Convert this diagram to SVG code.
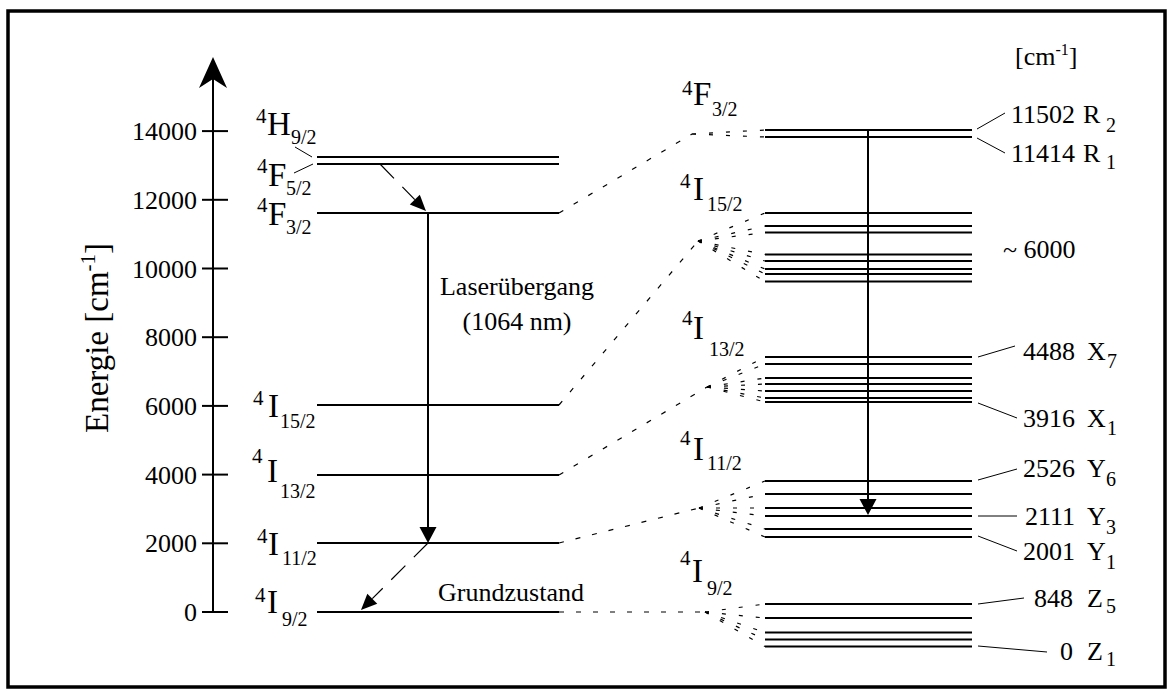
<svg xmlns="http://www.w3.org/2000/svg" width="1173" height="694" viewBox="0 0 1173 694" font-family="'Liberation Serif','Times New Roman',serif">
<style>
text{font-family:"Liberation Serif","Times New Roman",serif;fill:#000}
.t{font-size:26px}
.m{font-size:33px}
.sp{font-size:21px}
.sb{font-size:20px}
.lv{stroke:#000;stroke-width:2;fill:none}
.ax{stroke:#000;stroke-width:2;fill:none}
.thin{stroke:#000;stroke-width:1;fill:none}
.dl{stroke:#000;stroke-width:1.2;fill:none;stroke-dasharray:5 12}
.fan{stroke:#000;stroke-width:1.2;fill:none;stroke-dasharray:4 13}
.da{stroke:#000;stroke-width:1.2;fill:none;stroke-dasharray:20 12}
</style>
<defs>
<marker id="solid" markerUnits="userSpaceOnUse" markerWidth="18" markerHeight="18" refX="0" refY="8.5" orient="auto" overflow="visible">
<path d="M0,0 L16,8.5 L0,17 z" fill="#000"/>
</marker>
<marker id="dash" markerUnits="userSpaceOnUse" markerWidth="18" markerHeight="16" refX="0" refY="7" orient="auto" overflow="visible">
<path d="M0,0 L16,7 L0,14 z" fill="#000"/>
</marker>
</defs>
<rect x="8" y="11" width="1157" height="676" fill="none" stroke="#000" stroke-width="3.5"/>

<g id="axis">
<line class="ax" x1="213" y1="612" x2="213" y2="76"/>
<polygon points="213,57 199,88 213,79 227,88" fill="#000"/>
<g class="ax">
<line x1="202" y1="612" x2="228" y2="612"/>
<line x1="202" y1="543.3" x2="228" y2="543.3"/>
<line x1="202" y1="474.6" x2="228" y2="474.6"/>
<line x1="202" y1="405.9" x2="228" y2="405.9"/>
<line x1="202" y1="337.2" x2="228" y2="337.2"/>
<line x1="202" y1="268.5" x2="228" y2="268.5"/>
<line x1="202" y1="199.8" x2="228" y2="199.8"/>
<line x1="202" y1="131.1" x2="228" y2="131.1"/>
</g>
<g class="t" text-anchor="end">
<text x="197" y="621">0</text>
<text x="197" y="552">2000</text>
<text x="197" y="484">4000</text>
<text x="197" y="415">6000</text>
<text x="197" y="346">8000</text>
<text x="197" y="278">10000</text>
<text x="197" y="209">12000</text>
<text x="197" y="140">14000</text>
</g>
<text transform="translate(108,433) rotate(-90)" font-size="33">Energie [cm<tspan font-size="21" dy="-13">-1</tspan><tspan dy="13">]</tspan></text>
</g>

<g id="left-levels">
<line class="lv" x1="317" y1="157" x2="559" y2="157"/>
<line class="lv" x1="317" y1="164" x2="559" y2="164"/>
<line class="lv" x1="317" y1="213" x2="559" y2="213"/>
<line class="lv" x1="317" y1="405" x2="559" y2="405"/>
<line class="lv" x1="317" y1="475" x2="559" y2="475"/>
<line class="lv" x1="317" y1="543" x2="559" y2="543"/>
<line class="lv" x1="317" y1="612" x2="559" y2="612"/>
<line class="thin" x1="295" y1="147" x2="312" y2="157"/>
<line class="thin" x1="294" y1="173" x2="313" y2="164"/>
</g>

<g id="left-labels">
<text><tspan class="sp" x="256" y="123">4</tspan><tspan class="m" x="267" y="135">H</tspan><tspan class="sb" x="291" y="144">9/2</tspan></text>
<text><tspan class="sp" x="257" y="173">4</tspan><tspan class="m" x="268" y="186">F</tspan><tspan class="sb" x="286" y="195">5/2</tspan></text>
<text><tspan class="sp" x="257" y="212">4</tspan><tspan class="m" x="268" y="225">F</tspan><tspan class="sb" x="286" y="234">3/2</tspan></text>
<text><tspan class="sp" x="253" y="405">4</tspan><tspan class="m" x="268" y="417">I</tspan><tspan class="sb" x="280" y="428">15/2</tspan></text>
<text><tspan class="sp" x="252" y="463">4</tspan><tspan class="m" x="267" y="482">I</tspan><tspan class="sb" x="280" y="498">13/2</tspan></text>
<text><tspan class="sp" x="257" y="543">4</tspan><tspan class="m" x="268" y="555">I</tspan><tspan class="sb" x="282" y="565">11/2</tspan></text>
<text><tspan class="sp" x="255" y="602">4</tspan><tspan class="m" x="267" y="613">I</tspan><tspan class="sb" x="282" y="626">9/2</tspan></text>
</g>

<g id="transitions" class="t" text-anchor="middle">
<text x="517" y="295">Laserübergang</text>
<text x="517" y="330">(1064 nm)</text>
<text x="511" y="601">Grundzustand</text>
</g>

<g id="right-levels" class="lv">
<line x1="765" y1="130" x2="972" y2="130"/>
<line x1="765" y1="137" x2="972" y2="137"/>
<line x1="765" y1="213" x2="972" y2="213"/>
<line x1="765" y1="226" x2="972" y2="226"/>
<line x1="765" y1="232.5" x2="972" y2="232.5"/>
<line x1="765" y1="254.5" x2="972" y2="254.5"/>
<line x1="765" y1="261" x2="972" y2="261"/>
<line x1="765" y1="269" x2="972" y2="269"/>
<line x1="765" y1="274" x2="972" y2="274"/>
<line x1="765" y1="281.5" x2="972" y2="281.5"/>
<line x1="765" y1="357" x2="972" y2="357"/>
<line x1="765" y1="364" x2="972" y2="364"/>
<line x1="765" y1="378" x2="972" y2="378"/>
<line x1="765" y1="384" x2="972" y2="384"/>
<line x1="765" y1="391" x2="972" y2="391"/>
<line x1="765" y1="398" x2="972" y2="398"/>
<line x1="765" y1="402" x2="972" y2="402"/>
<line x1="765" y1="481" x2="972" y2="481"/>
<line x1="765" y1="494" x2="972" y2="494"/>
<line x1="765" y1="508" x2="972" y2="508"/>
<line x1="765" y1="516" x2="972" y2="516"/>
<line x1="765" y1="529" x2="972" y2="529"/>
<line x1="765" y1="537" x2="972" y2="537"/>
<line x1="765" y1="604" x2="972" y2="604"/>
<line x1="765" y1="618" x2="972" y2="618"/>
<line x1="765" y1="632.5" x2="972" y2="632.5"/>
<line x1="765" y1="639.5" x2="972" y2="639.5"/>
<line x1="765" y1="646.5" x2="972" y2="646.5"/>
</g>

<g id="right-labels">
<text><tspan class="sp" x="682" y="95">4</tspan><tspan class="m" x="693" y="105">F</tspan><tspan class="sb" x="712" y="116">3/2</tspan></text>
<text><tspan class="sp" x="680" y="188">4</tspan><tspan class="m" x="693" y="200">I</tspan><tspan class="sb" x="707" y="211">15/2</tspan></text>
<text><tspan class="sp" x="682" y="325">4</tspan><tspan class="m" x="693" y="339">I</tspan><tspan class="sb" x="709" y="356">13/2</tspan></text>
<text><tspan class="sp" x="680" y="445">4</tspan><tspan class="m" x="693" y="460">I</tspan><tspan class="sb" x="707" y="470">11/2</tspan></text>
<text><tspan class="sp" x="680" y="565">4</tspan><tspan class="m" x="692" y="582">I</tspan><tspan class="sb" x="707" y="595">9/2</tspan></text>
</g>

<g id="stark-values" class="t">
<text x="1015" y="65">[cm<tspan font-size="16" dy="-10">-1</tspan><tspan dy="10">]</tspan></text>
<text x="1075" y="123" text-anchor="end">11502</text><text x="1083" y="123">R</text><text class="sb" x="1106" y="132">2</text>
<text x="1075" y="162" text-anchor="end">11414</text><text x="1083" y="162">R</text><text class="sb" x="1106" y="169">1</text>
<text x="1003" y="258">~ 6000</text>
<text x="1075" y="360" text-anchor="end">4488</text><text x="1087" y="360">X</text><text class="sb" x="1107" y="368">7</text>
<text x="1075" y="427" text-anchor="end">3916</text><text x="1087" y="427">X</text><text class="sb" x="1107" y="435">1</text>
<text x="1075" y="477" text-anchor="end">2526</text><text x="1087" y="477">Y</text><text class="sb" x="1106" y="486">6</text>
<text x="1075" y="525" text-anchor="end">2111</text><text x="1087" y="525">Y</text><text class="sb" x="1106" y="534">3</text>
<text x="1075" y="560" text-anchor="end">2001</text><text x="1087" y="560">Y</text><text class="sb" x="1106" y="569">1</text>
<text x="1073" y="607" text-anchor="end">848</text><text x="1087" y="607">Z</text><text class="sb" x="1106" y="613">5</text>
<text x="1073" y="660" text-anchor="end">0</text><text x="1087" y="660">Z</text><text class="sb" x="1106" y="666">1</text>
</g>

<g id="connectors">
<line class="ax" x1="428" y1="213" x2="428" y2="527" marker-end="url(#solid)"/>
<line class="ax" x1="868" y1="130" x2="868" y2="499" marker-end="url(#solid)"/>
<line class="da" x1="380" y1="164" x2="414.8" y2="199.6" marker-end="url(#dash)"/>
<line class="da" x1="428" y1="543" x2="372.3" y2="598.7" marker-end="url(#dash)"/>

<line class="dl" x1="559" y1="213" x2="692" y2="134"/>
<line class="fan" x1="692" y1="134" x2="765" y2="130"/>
<line class="fan" x1="692" y1="134" x2="765" y2="137"/>

<line class="dl" x1="559" y1="405" x2="698" y2="241"/>
<g class="fan">
<line x1="698" y1="241" x2="765" y2="213"/>
<line x1="698" y1="241" x2="765" y2="226"/>
<line x1="698" y1="241" x2="765" y2="232.5"/>
<line x1="698" y1="241" x2="765" y2="254.5"/>
<line x1="698" y1="241" x2="765" y2="261"/>
<line x1="698" y1="241" x2="765" y2="269"/>
<line x1="698" y1="241" x2="765" y2="274"/>
<line x1="698" y1="241" x2="765" y2="281.5"/>
</g>

<line class="dl" x1="559" y1="475" x2="707" y2="387"/>
<g class="fan">
<line x1="707" y1="387" x2="765" y2="357"/>
<line x1="707" y1="387" x2="765" y2="364"/>
<line x1="707" y1="387" x2="765" y2="378"/>
<line x1="707" y1="387" x2="765" y2="384"/>
<line x1="707" y1="387" x2="765" y2="391"/>
<line x1="707" y1="387" x2="765" y2="398"/>
<line x1="707" y1="387" x2="765" y2="402"/>
</g>

<line class="dl" x1="559" y1="543" x2="699" y2="508"/>
<g class="fan">
<line x1="699" y1="508" x2="765" y2="481"/>
<line x1="699" y1="508" x2="765" y2="494"/>
<line x1="699" y1="508" x2="765" y2="508"/>
<line x1="699" y1="508" x2="765" y2="516"/>
<line x1="699" y1="508" x2="765" y2="529"/>
<line x1="699" y1="508" x2="765" y2="537"/>
</g>

<line class="dl" x1="559" y1="612" x2="705" y2="612"/>
<g class="fan">
<line x1="705" y1="612" x2="765" y2="604"/>
<line x1="705" y1="612" x2="765" y2="618"/>
<line x1="705" y1="612" x2="765" y2="632.5"/>
<line x1="705" y1="612" x2="765" y2="639.5"/>
<line x1="705" y1="612" x2="765" y2="646.5"/>
</g>

<g class="thin">
<line x1="977" y1="129" x2="1005" y2="113"/>
<line x1="977" y1="138" x2="1005" y2="153"/>
<line x1="978" y1="357" x2="1015" y2="346"/>
<line x1="978" y1="403" x2="1017" y2="418"/>
<line x1="978" y1="480" x2="1017" y2="469"/>
<line x1="978" y1="516" x2="1017" y2="516"/>
<line x1="978" y1="536" x2="1017" y2="551"/>
<line x1="978" y1="604" x2="1024" y2="598"/>
<line x1="978" y1="646" x2="1047" y2="652"/>
</g>
</g>
</svg>
